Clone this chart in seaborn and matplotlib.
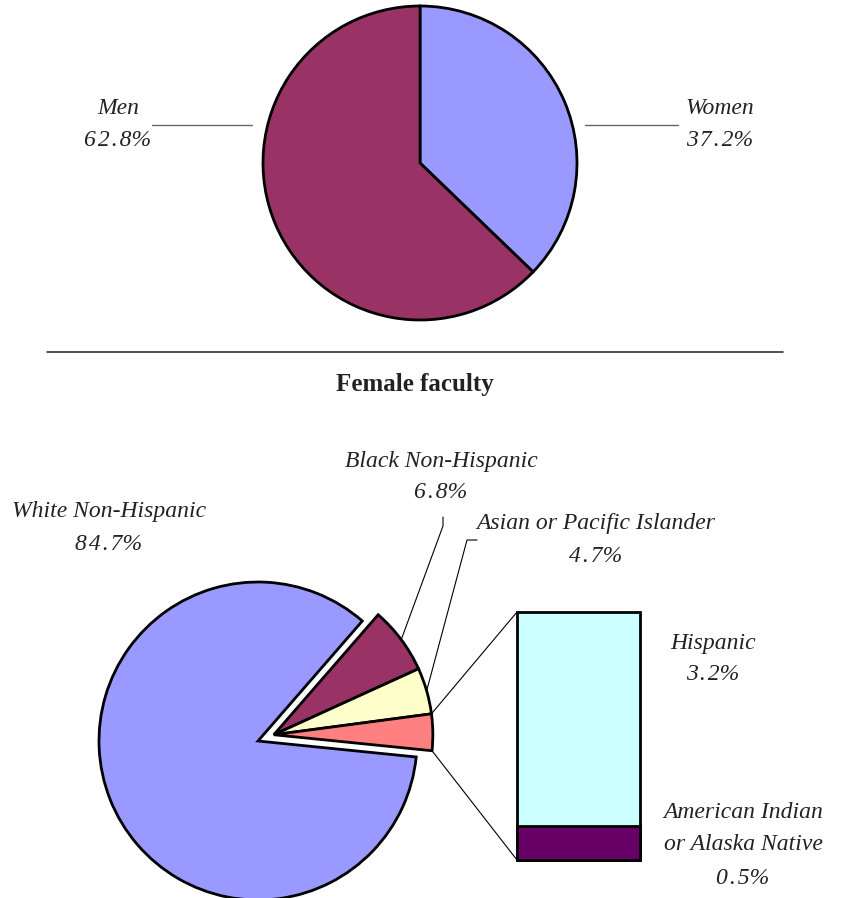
import numpy as np
import matplotlib
matplotlib.use('Agg')
import matplotlib.pyplot as plt
from matplotlib.patches import ConnectionPatch
import seaborn as sns

# data
gender_labels = ['Women', 'Men']
gender_values = [37.2, 62.8]
gender_colors = ['#9999FF', '#993366']

race_labels = ['Black Non-Hispanic', 'Asian or Pacific Islander', 'Other', 'White Non-Hispanic']
race_values = [6.8, 4.7, 3.7, 84.7]
race_colors = ['#993366', '#FFFFCC', '#FF8080', '#9999FF']

other_labels = ['Hispanic', 'American Indian\nor Alaska Native']
other_values = [3.2, 0.5]
other_colors = ['#CCFFFF', '#660066']

W, H = 852, 898

sns.set_theme(style='white')
plt.rcParams['font.family'] = ['Liberation Serif', 'DejaVu Serif']

fig = plt.figure(figsize=(W / 100, H / 100), dpi=100)
ax = fig.add_axes([0, 0, 1, 1])


def Y(y):
    # picture rows run downward, data runs upward
    return H - y


def pct(v):
    # the source spaces out the digits a little
    return '\u200a'.join(f'{v}') + '%'


# top pie: men / women
ax.pie(gender_values, colors=gender_colors, startangle=90, counterclock=False,
       center=(420, Y(163)), radius=157, frame=True,
       wedgeprops=dict(edgecolor='black', linewidth=2))

txt = dict(fontsize=17, style='italic', color='#222222', ha='center', va='center')
ax.text(118, Y(108), gender_labels[1], **txt)
ax.text(118, Y(140), pct(gender_values[1]), **txt)
ax.text(720, Y(108), gender_labels[0], **txt)
ax.text(720, Y(140), pct(gender_values[0]), **txt)
ax.plot([152, 252], [Y(125), Y(125)], color='#666666', lw=1)
ax.plot([585, 678], [Y(125), Y(125)], color='#666666', lw=1)

# separator and title
ax.plot([47, 783], [Y(352), Y(352)], color='#333333', lw=1.2)
ax.text(415, Y(385), 'Female faculty', fontsize=18, fontweight='bold',
        color='#222222', ha='center', va='center')

# bottom pie: bar-of-pie
R = 159
white_center = np.array([258, Y(741)])
start = 49
group_frac = sum(race_values[:3]) / sum(race_values)
mid = np.deg2rad(start - 180 * group_frac)
group_center = white_center + 17 * np.array([np.cos(mid), np.sin(mid)])

wp = dict(edgecolor='black', linewidth=2)
small, _ = ax.pie(race_values, colors=race_colors, startangle=start, counterclock=False,
                  center=tuple(group_center), radius=R, frame=True,
                  explode=[0.03, 0.03, 0.03, 0], wedgeprops=wp)
small[3].set_visible(False)
big, _ = ax.pie(race_values, colors=race_colors, startangle=start, counterclock=False,
                center=tuple(white_center), radius=R, frame=True, wedgeprops=wp)
for w in big[:3]:
    w.set_visible(False)


def arc_point(w, ang):
    a = np.deg2rad(ang)
    return (w.center[0] + w.r * np.cos(a), w.center[1] + w.r * np.sin(a))


# leader lines for black and asian labels
bw, aw, ow = small[0], small[1], small[2]
p = arc_point(bw, (bw.theta1 + bw.theta2) / 2)
ax.plot([443, 443, p[0]], [Y(517), Y(526), p[1]], color='black', lw=0.8)
p = arc_point(aw, (aw.theta1 + aw.theta2) / 2)
ax.plot([477, 467, p[0]], [Y(540), Y(540), p[1]], color='black', lw=0.8)

ax.text(109, Y(511), race_labels[3], **txt)
ax.text(109, Y(545), pct(race_values[3]), **txt)
ax.text(441, Y(461), race_labels[0], **txt)
ax.text(441, Y(493), pct(race_values[0]), **txt)
ax.text(596, Y(523), race_labels[1], **txt)
ax.text(596, Y(556), pct(race_values[1]), **txt)

ax.set_xlim(0, W)
ax.set_ylim(0, H)
ax.set_aspect('auto')
ax.axis('off')

# stacked bar for Hispanic / American Indian
bx, by, bw_px, bh_px = 517, 612, 123, 248
bar_ax = fig.add_axes([bx / W, (H - by - bh_px) / H, bw_px / W, bh_px / H])
total = sum(other_values)
sns.barplot(x=[0], y=[total], color=other_colors[0], saturation=1, width=1,
            edgecolor='black', linewidth=2, ax=bar_ax, native_scale=True)
sns.barplot(x=[0], y=[other_values[1]], color=other_colors[1], saturation=1, width=1,
            edgecolor='black', linewidth=2, ax=bar_ax, native_scale=True)
for patch in bar_ax.patches:
    patch.set_clip_on(False)
bar_ax.set_xlim(-0.5, 0.5)
bar_ax.set_ylim(0, total)
bar_ax.axis('off')

# connector lines from pie to bar
top_pt = arc_point(ow, ow.theta2)
bot_pt = arc_point(ow, ow.theta1)
for xyA, xyB in [((-0.5, total), top_pt), ((-0.5, 0), bot_pt)]:
    con = ConnectionPatch(xyA=xyA, coordsA=bar_ax.transData, xyB=xyB, coordsB=ax.transData,
                          color='black', lw=0.8)
    fig.add_artist(con)

ax.text(713, Y(643), other_labels[0], **txt)
ax.text(713, Y(675), pct(other_values[0]), **txt)
ax.text(743, Y(813), 'American Indian', **txt)
ax.text(743, Y(845), 'or Alaska Native', **txt)
ax.text(743, Y(879), pct(other_values[1]), **txt)

fig.savefig('out.png', dpi=100)
